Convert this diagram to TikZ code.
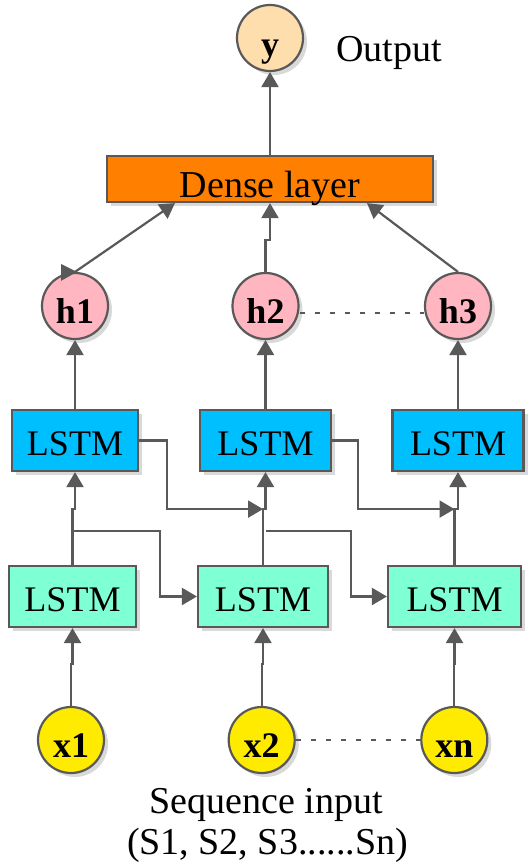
\documentclass[tikz,border=0pt]{standalone}
\usepackage{fontspec}
\setmainfont{Liberation Serif}
\usetikzlibrary{arrows.meta,shadows,calc}
\definecolor{edge}{HTML}{595959}
\definecolor{denseorange}{HTML}{FF7F00}
\definecolor{lstmblue}{HTML}{00BFFF}
\definecolor{lstmgreen}{HTML}{7FFFD4}
\definecolor{hpink}{HTML}{FFB6C1}
\definecolor{xyellow}{HTML}{FFEB00}
\definecolor{ypeach}{HTML}{FFDEAD}
\definecolor{shade}{HTML}{D9D9D9}
\begin{document}
\begin{tikzpicture}[x=1pt,y=-1pt,
  font=\fontsize{36}{43}\selectfont,
  caption/.style={font=\fontsize{38}{43}\selectfont},
  shadowed/.style={drop shadow={shadow xshift=4pt,shadow yshift=-4pt,fill=shade,opacity=1}},
  unit/.style={circle,draw=edge,line width=2.2pt,minimum size=66pt,inner sep=0pt,shadowed,
    font=\fontsize{36}{43}\selectfont\bfseries,text height=34pt,text depth=0pt},
  lstm/.style={rectangle,draw=edge,line width=2.2pt,minimum height=61pt,inner sep=0pt,shadowed,
    text height=30pt,text depth=0pt},
  densebox/.style={rectangle,draw=edge,line width=2.2pt,fill=denseorange,minimum width=326pt,
    minimum height=46pt,inner sep=0pt,shadowed,caption,text height=36pt,text depth=0pt},
  arr/.style={draw=edge,line width=2.2pt,-{Triangle[length=15pt,width=17pt]}},
  dots/.style={draw=edge,line width=2pt,dash pattern=on 5pt off 10pt}]

\useasboundingbox (0,0) rectangle (531,864);

% output
\node[unit,fill=ypeach,text height=38pt] (y) at (270,38) {y};
\node[caption,anchor=base west] (out) at (333,62) {Output};
\node[densebox] (dense) at (270,179) {Dense layer};

% hidden states
\node[unit,fill=hpink] (h1) at (75,306) {h1};
\node[unit,fill=hpink] (h2) at (265.5,306) {h2};
\node[unit,fill=hpink] (h3) at (458,306) {h3};

% upper LSTM layer
\node[lstm,fill=lstmblue,minimum width=126pt] (t1) at (75,440.5) {LSTM};
\node[lstm,fill=lstmblue,minimum width=131pt] (t2) at (265.5,440.5) {LSTM};
\node[lstm,fill=lstmblue,minimum width=131pt] (t3) at (458,440.5) {LSTM};

% lower LSTM layer
\node[lstm,fill=lstmgreen,minimum width=127pt] (b1) at (72.5,596.5) {LSTM};
\node[lstm,fill=lstmgreen,minimum width=130pt] (b2) at (263,596.5) {LSTM};
\node[lstm,fill=lstmgreen,minimum width=133pt] (b3) at (454.5,596.5) {LSTM};

% inputs
\node[unit,fill=xyellow] (x1) at (71,740) {x1};
\node[unit,fill=xyellow] (x2) at (261.7,740) {x2};
\node[unit,fill=xyellow] (xn) at (454.3,740) {xn};

\node[caption,anchor=base] (seq1) at (266,813) {Sequence input};
\node[caption,anchor=base] (seq2) at (267.5,854) {(S1, S2, S3......Sn)};

% junctions below the upper layer
\coordinate (j1) at ($(t1.south)+(0,37)$);
\coordinate (j2) at ($(t2.south)+(0,37)$);
\coordinate (j3) at ($(t3.south)+(0,37)$);

% dense -> output
\draw[arr] (dense.north) -- (y.south);

% hidden -> dense
\draw[arr] (h1.north) -- ($(dense.south)+(-95,0)$);
\fill[edge] ($(h1.north)+(-14,-8)$) -- ($(h1.north)+(2,0)$) -- ($(h1.north)+(-14,9)$) -- cycle;
\draw[arr] (h2.north) -- ++(0,-32) -| (dense.south);
\draw[arr] (h3.north) -- ($(dense.south)+(97,0)$);

% upper LSTM -> hidden
\draw[arr] (t1.north) -- (h1.south);
\draw[arr] (t2.north) -- (h2.south);
\draw[arr] (t3.north) -- (h3.south);

% lower LSTM -> upper LSTM
\draw[arr] (b1.north) |- (j1) -- (t1.south);
\draw[arr] (b2.north) |- (j2) -- (t2.south);
\draw[arr] (b3.north) |- (j3) -- (t3.south);

% recurrent links, lower layer
\draw[arr] ($(b1.north)+(0,-34)$) -| ($(b2.west)+(-37,0)$) -- (b2.west);
\draw[arr] ($(b2.north)+(3,-34)$) -| ($(b3.west)+(-36,0)$) -- (b3.west);

% recurrent links, upper layer
\draw[arr] (t1.east) -- ++(28,0) |- (b2.north |- j2);
\draw[arr] (t2.east) -- ++(26,0) |- (b3.north |- j3);

% inputs -> lower LSTM
\draw[arr] (x1.north) |- ($(b1.south)+(0,36)$) -- (b1.south);
\draw[arr] (x2.north) |- ($(b2.south)+(0,36)$) -- (b2.south);
\draw[arr] (xn.north) |- ($(b3.south)+(0,36)$) -- (b3.south);

% ellipses
\draw[dots] ($(h2.east)+(0,7)$) -- ($(h3.west)+(0,7)$);
\draw[dots] (x2.east) -- (xn.west);
\end{tikzpicture}
\end{document}
